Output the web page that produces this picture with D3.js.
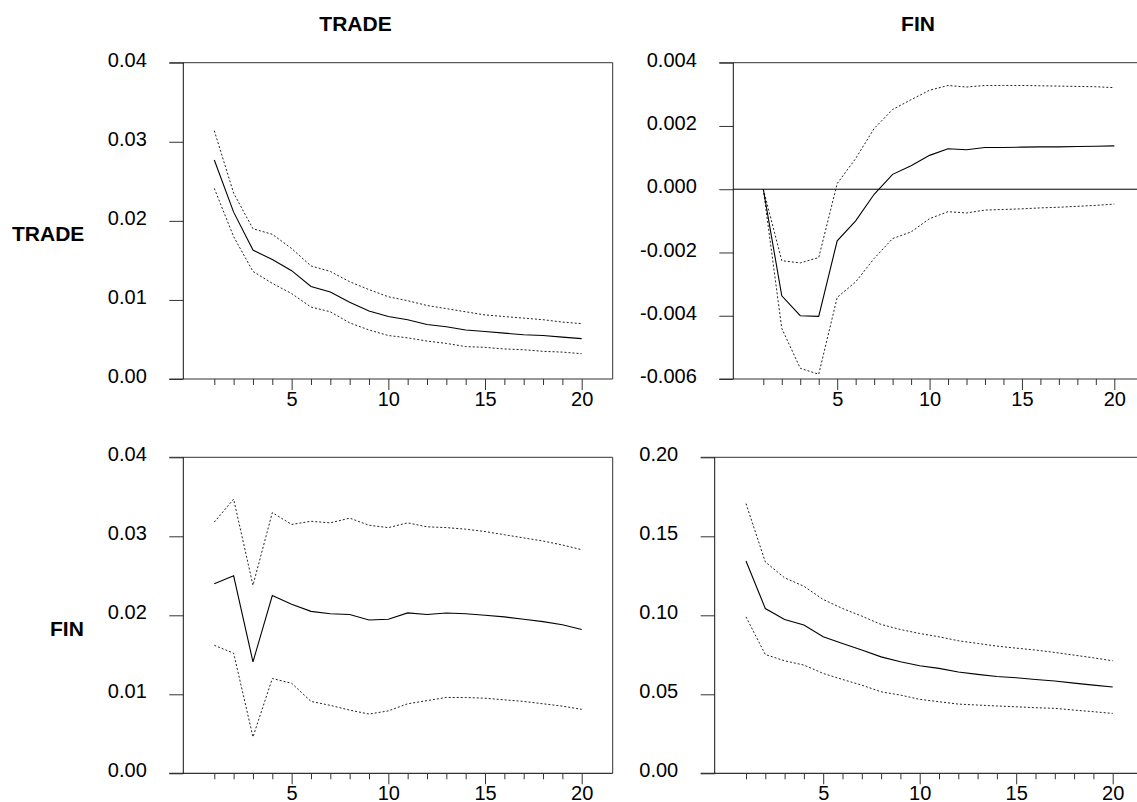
<!DOCTYPE html>
<html>
<head>
<meta charset="utf-8">
<script src="https://cdn.jsdelivr.net/npm/d3@7"></script>
<style>
  html, body { margin: 0; padding: 0; background: #fff; overflow: hidden; }
  svg { display: block; }
  text { font-family: "Liberation Sans", Arial, sans-serif; fill: #000; }
</style>
</head>
<body>
<svg id="chart" width="1137" height="802"></svg>
<script>
// Forecast horizon (periods after the shock)
const periods = [1, 2, 3, 4, 5, 6, 7, 8, 9, 10, 11, 12, 13, 14, 15, 16, 17, 18, 19, 20];

// Response of TRADE to a TRADE shock, with +/- 2 S.E. bands
const tradeToTrade = [0.0277, 0.0211, 0.0163, 0.0151, 0.0137, 0.0117, 0.0110, 0.0097, 0.0086, 0.0079,
                      0.0075, 0.0069, 0.0066, 0.0062, 0.0060, 0.0058, 0.0056, 0.0055, 0.0053, 0.0051];
const tradeToTradeUpper = [0.0314, 0.0235, 0.0190, 0.0183, 0.0165, 0.0143, 0.0136, 0.0123, 0.0113, 0.0104,
                           0.0099, 0.0093, 0.0089, 0.0085, 0.0081, 0.0079, 0.0077, 0.0075, 0.0072, 0.0070];
const tradeToTradeLower = [0.0241, 0.0180, 0.0136, 0.0121, 0.0108, 0.0091, 0.0085, 0.0071, 0.0062, 0.0055,
                           0.0052, 0.0048, 0.0045, 0.0041, 0.0040, 0.0038, 0.0037, 0.0035, 0.0034, 0.0032];

// Response of TRADE to a FIN shock
const tradeToFin = [0.0, -0.00337, -0.00400, -0.00402, -0.00163, -0.00100, -0.00016, 0.00047, 0.00074, 0.00107,
                    0.00128, 0.00125, 0.00132, 0.00132, 0.00133, 0.00134, 0.00134, 0.00135, 0.00136, 0.00137];
const tradeToFinUpper = [0.0, -0.00226, -0.00233, -0.00216, 0.00018, 0.00097, 0.00192, 0.00252, 0.00283, 0.00313,
                         0.00328, 0.00323, 0.00328, 0.00328, 0.00328, 0.00327, 0.00326, 0.00325, 0.00324, 0.00321];
const tradeToFinLower = [0.0, -0.00440, -0.00566, -0.00585, -0.00342, -0.00293, -0.00219, -0.00156, -0.00135, -0.00093,
                         -0.00071, -0.00075, -0.00066, -0.00064, -0.00062, -0.00059, -0.00057, -0.00054, -0.00051, -0.00047];

// Response of FIN to a TRADE shock
const finToTrade = [0.0240, 0.0250, 0.0141, 0.0225, 0.0214, 0.0205, 0.0202, 0.0201, 0.0194, 0.0195,
                    0.0203, 0.0201, 0.0203, 0.0202, 0.0200, 0.0198, 0.0195, 0.0192, 0.0188, 0.0182];
const finToTradeUpper = [0.0318, 0.0347, 0.0238, 0.0330, 0.0315, 0.0319, 0.0317, 0.0323, 0.0314, 0.0311,
                         0.0317, 0.0312, 0.0311, 0.0309, 0.0306, 0.0302, 0.0298, 0.0294, 0.0289, 0.0283];
const finToTradeLower = [0.0162, 0.0152, 0.0046, 0.0120, 0.0114, 0.0091, 0.0086, 0.0080, 0.0075, 0.0079,
                         0.0088, 0.0092, 0.0096, 0.0096, 0.0095, 0.0093, 0.0091, 0.0088, 0.0085, 0.0081];

// Response of FIN to a FIN shock
const finToFin = [0.1344, 0.1043, 0.0973, 0.0938, 0.0864, 0.0822, 0.0780, 0.0737, 0.0706, 0.0681,
                  0.0664, 0.0641, 0.0626, 0.0613, 0.0605, 0.0594, 0.0584, 0.0571, 0.0558, 0.0546];
const finToFinUpper = [0.1707, 0.1338, 0.1237, 0.1184, 0.1100, 0.1043, 0.0995, 0.0942, 0.0910, 0.0885,
                       0.0864, 0.0839, 0.0822, 0.0805, 0.0792, 0.0780, 0.0765, 0.0748, 0.0731, 0.0712];
const finToFinLower = [0.0990, 0.0752, 0.0712, 0.0685, 0.0632, 0.0594, 0.0558, 0.0516, 0.0495, 0.0468,
                       0.0453, 0.0438, 0.0432, 0.0426, 0.0421, 0.0415, 0.0411, 0.0400, 0.0390, 0.0379];

// Axis ticks
const xTickLabels = [5, 10, 15, 20];
const tradeTradeTicks = [0.00, 0.01, 0.02, 0.03, 0.04];
const tradeFinTicks = [-0.006, -0.004, -0.002, 0.000, 0.002, 0.004];
const finTradeTicks = [0.00, 0.01, 0.02, 0.03, 0.04];
const finFinTicks = [0.00, 0.05, 0.10, 0.15, 0.20];

// Column (shock) and row (response) titles
const columnTitles = ["TRADE", "FIN"];
const rowTitles = ["TRADE", "FIN"];

// Plain hyphen for negative numbers
const locale = d3.formatLocale({ decimal: ".", thousands: ",", grouping: [3], currency: ["", ""], minus: "-" });

// Right-hand panels run past the page edge, so their right border is not seen
const panels = [
  { resp: tradeToTrade, up: tradeToTradeUpper, lo: tradeToTradeLower, ticks: tradeTradeTicks, fmt: ".2f",
    frame: { l: 183.3, r: 612.7, t: 62.7, b: 379 }, xr: [214.3, 581.7], zero: false },
  { resp: tradeToFin, up: tradeToFinUpper, lo: tradeToFinLower, ticks: tradeFinTicks, fmt: ".3f",
    frame: { l: 733.3, r: 1170, t: 62.7, b: 379 }, xr: [763.3, 1114.3], zero: true },
  { resp: finToTrade, up: finToTradeUpper, lo: finToTradeLower, ticks: finTradeTicks, fmt: ".2f",
    frame: { l: 183.3, r: 612.7, t: 457.3, b: 773.3 }, xr: [214.3, 581.7], zero: false },
  { resp: finToFin, up: finToFinUpper, lo: finToFinLower, ticks: finFinTicks, fmt: ".2f",
    frame: { l: 714.7, r: 1170, t: 457.3, b: 773.3 }, xr: [746, 1112.7], zero: false }
];

const svg = d3.select("#chart");
const frameColor = "#333";
const tickLen = 14;

panels.forEach(p => {
  const f = p.frame;
  const x = d3.scaleLinear().domain([1, 20]).range(p.xr);
  const y = d3.scaleLinear().domain(d3.extent(p.ticks)).range([f.b, f.t]);
  const g = svg.append("g");

  // Left axis with outward ticks
  const yAxis = d3.axisLeft(y).tickValues(p.ticks).tickSize(tickLen).tickPadding(22.5)
    .tickFormat(locale.format(p.fmt));
  const ya = g.append("g").attr("transform", `translate(${f.l},0)`).call(yAxis);
  ya.select(".domain").remove();
  ya.selectAll(".tick line").attr("stroke", frameColor);
  ya.selectAll(".tick text").attr("dy", "0.18em")
    .style("font-size", "20px").style("font-family", '"Liberation Sans", Arial, sans-serif').attr("fill", "#000");

  // Bottom axis: a tick at every period, longer and labelled every 5
  const xAxis = d3.axisBottom(x).tickValues(periods).tickSize(6)
    .tickFormat(d => xTickLabels.includes(d) ? d : "");
  const xa = g.append("g").attr("transform", `translate(0,${f.b})`).call(xAxis);
  xa.select(".domain").remove();
  xa.selectAll(".tick line").attr("stroke", frameColor)
    .attr("y2", d => xTickLabels.includes(d) ? 11 : 6);
  xa.selectAll(".tick text").attr("y", 12.8).attr("dy", "0.71em")
    .style("font-size", "20px").style("font-family", '"Liberation Sans", Arial, sans-serif').attr("fill", "#000");

  // Frame
  g.append("line").attr("x1", f.l - tickLen).attr("x2", f.r).attr("y1", f.t).attr("y2", f.t)
    .attr("stroke", frameColor).attr("stroke-width", 1);
  g.append("line").attr("x1", f.l - tickLen).attr("x2", f.r).attr("y1", f.b).attr("y2", f.b)
    .attr("stroke", frameColor).attr("stroke-width", 1.2);
  g.append("line").attr("x1", f.l).attr("x2", f.l).attr("y1", f.t).attr("y2", f.b)
    .attr("stroke", "#111").attr("stroke-width", 1);
  g.append("line").attr("x1", f.r).attr("x2", f.r).attr("y1", f.t).attr("y2", f.b)
    .attr("stroke", frameColor).attr("stroke-width", 1);

  if (p.zero) {
    g.append("line").attr("x1", f.l).attr("x2", f.r).attr("y1", y(0)).attr("y2", y(0))
      .attr("stroke", "#000").attr("stroke-width", 1);
  }

  const line = d3.line().x((d, i) => x(periods[i])).y(d => y(d));

  g.append("path").datum(p.up).attr("d", line).attr("fill", "none")
    .attr("stroke", "#222").attr("stroke-width", 1).attr("stroke-dasharray", "2,2");
  g.append("path").datum(p.lo).attr("d", line).attr("fill", "none")
    .attr("stroke", "#222").attr("stroke-width", 1).attr("stroke-dasharray", "2,2");
  g.append("path").datum(p.resp).attr("d", line).attr("fill", "none")
    .attr("stroke", "#000").attr("stroke-width", 1.1);
});

// Column titles (shock variable)
svg.selectAll("text.coltitle").data(columnTitles).enter().append("text")
  .attr("class", "coltitle")
  .attr("x", (d, i) => [355.5, 918][i]).attr("y", 31)
  .attr("text-anchor", "middle")
  .style("font-size", "21px").style("font-weight", "bold")
  .text(d => d);

// Row titles (responding variable)
svg.selectAll("text.rowtitle").data(rowTitles).enter().append("text")
  .attr("class", "rowtitle")
  .attr("x", (d, i) => [12, 50][i]).attr("y", (d, i) => [241, 636][i])
  .style("font-size", "21px").style("font-weight", "bold")
  .text(d => d);
</script>
</body>
</html>
